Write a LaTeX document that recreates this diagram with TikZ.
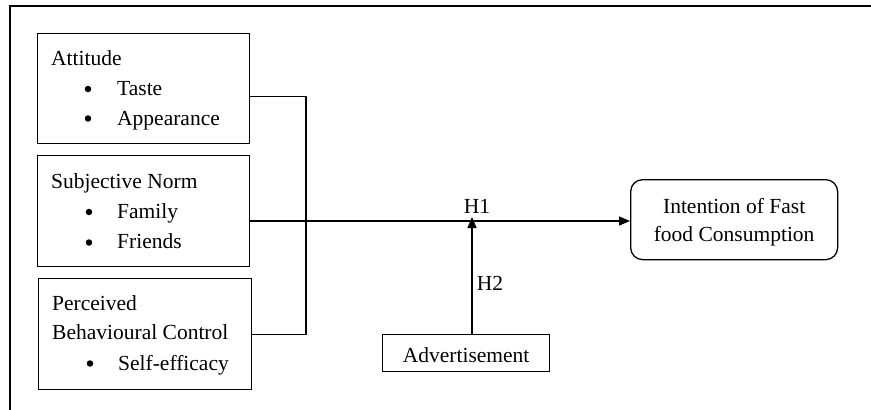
\documentclass[tikz,border=0pt]{standalone}
\usepackage{fontspec}
\setmainfont{Liberation Serif}
\usetikzlibrary{arrows.meta}
\begin{document}
\begin{tikzpicture}[x=1pt,y=-1pt,
  box/.style={draw, line width=1.3pt, inner sep=0pt, anchor=north west},
  txt/.style={anchor=base west, inner sep=0pt, font=\fontsize{21.5}{24}\selectfont},
  ctxt/.style={anchor=base, inner sep=0pt, font=\fontsize{21.5}{24}\selectfont},
  dot/.style={circle, fill, inner sep=0pt, minimum size=6.5pt},
  conn/.style={line width=1.3pt},
  arr/.style={line width=1.3pt, -{Triangle[length=11pt,width=9pt]}}
]
\useasboundingbox (0,0) rectangle (871,410);
% frame (top and left edges)
\draw[line width=2pt] (10,410) -- (10,5.5) -- (871,5.5);

% boxes
\node[box, minimum width=212pt, minimum height=110pt] (att) at (37,33) {};
\node[box, minimum width=212pt, minimum height=111pt] (sn) at (37,155) {};
\node[box, minimum width=213pt, minimum height=111pt] (pbc) at (38,278) {};
\node[box, rounded corners=12pt, minimum width=207pt, minimum height=80pt] (int) at (630,179) {};
\node[box, minimum width=167pt, minimum height=37pt] (adv) at (382,334) {};

% texts
\node[txt] (t1) at (51,65) {Attitude};
\node[dot] (b1) at (88,89) {};
\node[txt] (t2) at (117,95) {Taste};
\node[dot] (b2) at (88,118.5) {};
\node[txt] (t3) at (117,125) {Appearance};

\node[txt] (t4) at (51,188) {Subjective Norm};
\node[dot] (b3) at (89,212) {};
\node[txt] (t5) at (117,218) {Family};
\node[dot] (b4) at (89,242.5) {};
\node[txt] (t6) at (117,248) {Friends};

\node[txt] (t7) at (52,310) {Perceived};
\node[txt] (t8) at (52,339) {Behavioural Control};
\node[dot] (b5) at (90,363.5) {};
\node[txt] (t9) at (118,370) {Self-efficacy};

\node[ctxt] (i1) at (int.center |- 0,213) {Intention of Fast};
\node[ctxt] (i2) at (int.center |- 0,241) {food Consumption};

\node[ctxt] (a1) at (adv.center |- 0,362) {Advertisement};

\node[ctxt] (h1) at (477,213) {H1};
\node[ctxt] (h2) at (490,290) {H2};

% connectors
\coordinate (j) at (306,221);
\coordinate (m) at (472,221);
\draw[conn] ([yshift=-8pt]att.east) -| (j);
\draw[conn] (pbc.east) -| (j);
\draw[arr] (sn.east |- j) -- (j) -- (m) -- (int.west |- j);
\draw[arr] (adv.north -| m) -- ([yshift=4pt]m);
\end{tikzpicture}
\end{document}
